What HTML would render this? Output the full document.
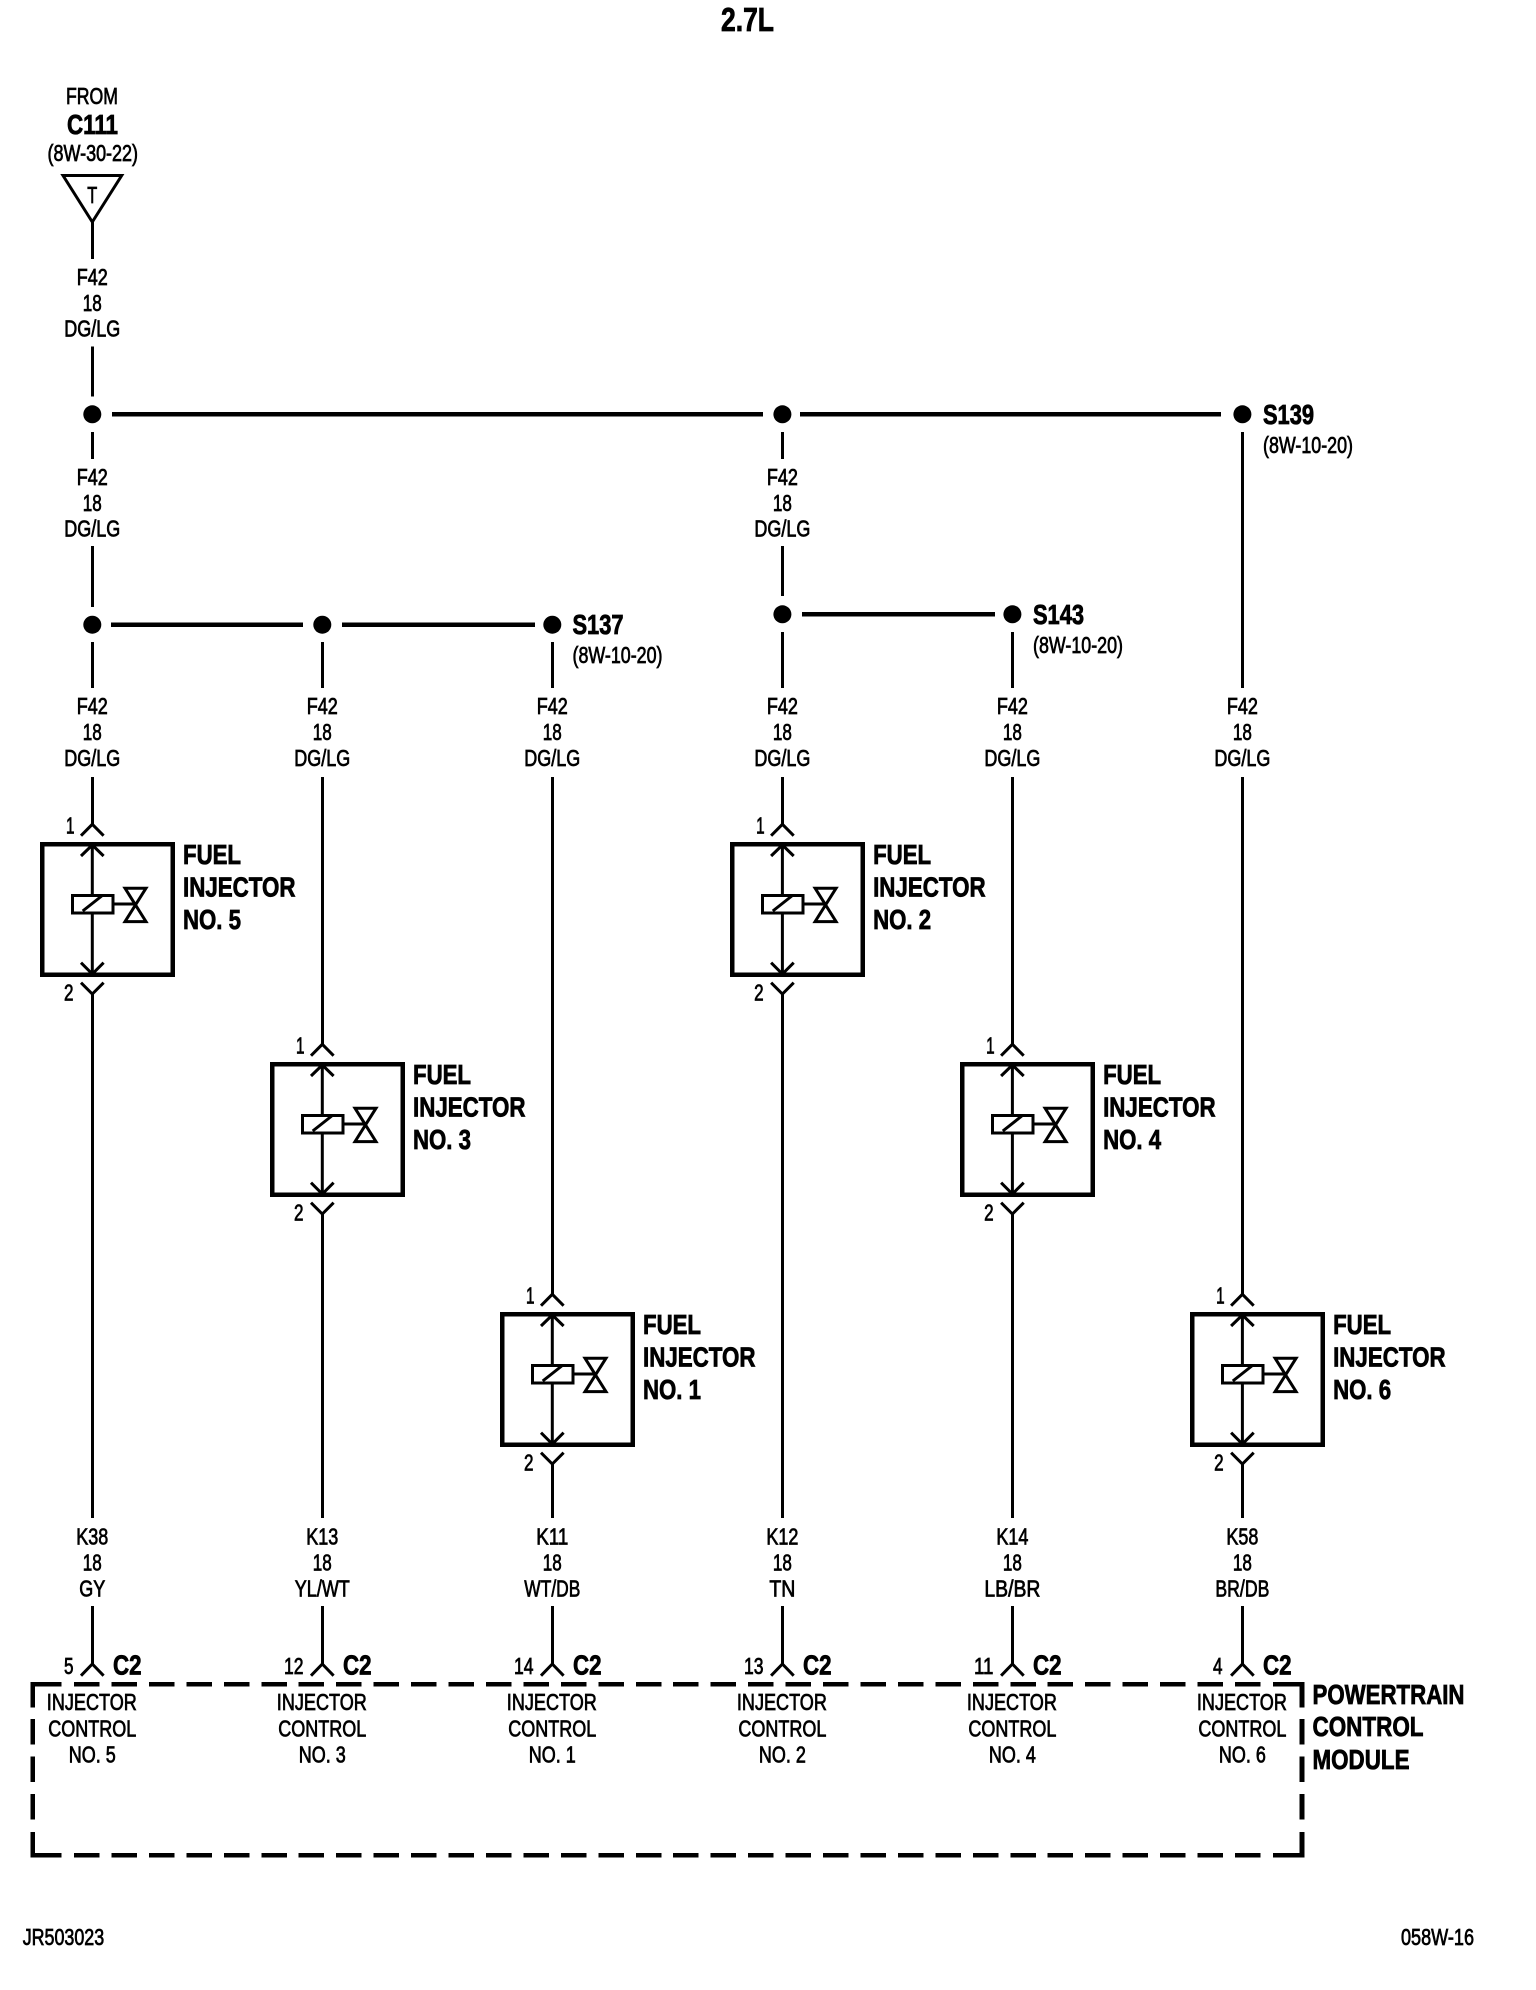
<!DOCTYPE html>
<html><head><meta charset="utf-8"><style>
html,body{margin:0;padding:0;background:#fff;width:1536px;height:1990px;overflow:hidden}
svg{display:block}
text{font-family:"Liberation Sans",Arial,sans-serif;fill:#000;stroke:#000;stroke-width:.75px;font-size:23px}
.b{font-weight:700;font-size:28px;stroke-width:.8px}
.m{text-anchor:middle}
.w{stroke:#000;stroke-width:3;fill:none}
.t{stroke:#000;stroke-width:4.8;fill:none}
.d{stroke:#000;stroke-width:4.7;fill:none}
</style></head><body>
<svg xmlns="http://www.w3.org/2000/svg" width="1536" height="1990" viewBox="0 0 1536 1990" shape-rendering="crispEdges">
<defs>
<g id="inj">
<rect x="42.3" y="844.3" width="130.4" height="130.4" fill="none" stroke="#000" stroke-width="4.6"/>
<path class="w" d="M81 835.7L92.3 824.3L103.6 835.7M81 856L92.3 845L103.6 856M92.3 845V973M81 962.7L92.3 974L103.6 962.7M81 982.7L92.3 994L103.6 982.7" shape-rendering="auto"/>
<rect x="72.4" y="895.3" width="40.4" height="17.5" fill="#fff" stroke="#000" stroke-width="3"/>
<path class="w" d="M82.7 911L101.7 896M114 904H135" shape-rendering="auto"/>
<path d="M125 888.2H146L125 921.6H146Z" fill="none" stroke="#000" stroke-width="3" shape-rendering="auto"/>
</g>
</defs>

<text class="b" x="721" y="31" textLength="53" lengthAdjust="spacingAndGlyphs" style="font-size:33px">2.7L</text>
<text x="66" y="104" textLength="52" lengthAdjust="spacingAndGlyphs">FROM</text>
<text class="b" x="67" y="134" textLength="51" lengthAdjust="spacingAndGlyphs">C111</text>
<text x="47.5" y="161" textLength="90.5" lengthAdjust="spacingAndGlyphs">(8W-30-22)</text>
<polygon points="63,175.5 121.7,175.5 92.3,222" fill="none" stroke="#000" stroke-width="3" shape-rendering="auto"/>
<text class="m" x="92.3" y="203" textLength="10" lengthAdjust="spacingAndGlyphs">T</text>

<!-- buses -->
<path class="t" d="M112 414.3H763M800 414.3H1221M111 624.7H303M342 624.7H535M802 614.3H995"/>
<g shape-rendering="auto">
<circle cx="92.3" cy="414.3" r="9"/><circle cx="782.4" cy="414.3" r="9"/><circle cx="1242.4" cy="414.3" r="9"/>
<circle cx="92.3" cy="624.7" r="9"/><circle cx="322.3" cy="624.7" r="9"/><circle cx="552.3" cy="624.7" r="9"/>
<circle cx="782.4" cy="614.3" r="9"/><circle cx="1012.4" cy="614.3" r="9"/>
</g>

<!-- upper wires -->
<path class="w" d="M92.3 222V259M92.3 346.5V396.4M92.3 432V459M92.3 546V607M92.3 642V688M92.3 777V824
M322.3 642V688M322.3 777V1044
M552.3 642V688M552.3 777V1294
M782.4 432V459M782.4 546V596M782.4 632V688M782.4 777V824
M1012.4 632V688M1012.4 777V1044
M1242.4 432V688M1242.4 777V1294
M92.3 994V1518M322.3 1214V1518M552.3 1464V1518M782.4 994V1518M1012.4 1214V1518M1242.4 1464V1518
M92.3 1606V1664M322.3 1606V1664M552.3 1606V1664M782.4 1606V1664M1012.4 1606V1664M1242.4 1606V1664"/>

<!-- splice labels -->
<text class="b" x="1263" y="424" textLength="51" lengthAdjust="spacingAndGlyphs">S139</text>
<text x="1263" y="453" textLength="90" lengthAdjust="spacingAndGlyphs">(8W-10-20)</text>
<text class="b" x="1033" y="624" textLength="51" lengthAdjust="spacingAndGlyphs">S143</text>
<text x="1033" y="653" textLength="90" lengthAdjust="spacingAndGlyphs">(8W-10-20)</text>
<text class="b" x="572.5" y="634" textLength="51" lengthAdjust="spacingAndGlyphs">S137</text>
<text x="572.5" y="663" textLength="90" lengthAdjust="spacingAndGlyphs">(8W-10-20)</text>

<!-- wire labels row 1 -->
<text class="m" x="92.3" y="285" textLength="31" lengthAdjust="spacingAndGlyphs">F42</text>
<text class="m" x="92.3" y="311" textLength="19" lengthAdjust="spacingAndGlyphs">18</text>
<text class="m" x="92.3" y="336.5" textLength="56" lengthAdjust="spacingAndGlyphs">DG/LG</text>
<!-- row 2 -->
<text class="m" x="92.3" y="485" textLength="31" lengthAdjust="spacingAndGlyphs">F42</text>
<text class="m" x="92.3" y="511" textLength="19" lengthAdjust="spacingAndGlyphs">18</text>
<text class="m" x="92.3" y="536.5" textLength="56" lengthAdjust="spacingAndGlyphs">DG/LG</text>
<text class="m" x="782.4" y="485" textLength="31" lengthAdjust="spacingAndGlyphs">F42</text>
<text class="m" x="782.4" y="511" textLength="19" lengthAdjust="spacingAndGlyphs">18</text>
<text class="m" x="782.4" y="536.5" textLength="56" lengthAdjust="spacingAndGlyphs">DG/LG</text>
<!-- row 3 -->
<text class="m" x="92.3" y="714" textLength="31" lengthAdjust="spacingAndGlyphs">F42</text>
<text class="m" x="92.3" y="740" textLength="19" lengthAdjust="spacingAndGlyphs">18</text>
<text class="m" x="92.3" y="766" textLength="56" lengthAdjust="spacingAndGlyphs">DG/LG</text>
<text class="m" x="322.3" y="714" textLength="31" lengthAdjust="spacingAndGlyphs">F42</text>
<text class="m" x="322.3" y="740" textLength="19" lengthAdjust="spacingAndGlyphs">18</text>
<text class="m" x="322.3" y="766" textLength="56" lengthAdjust="spacingAndGlyphs">DG/LG</text>
<text class="m" x="552.3" y="714" textLength="31" lengthAdjust="spacingAndGlyphs">F42</text>
<text class="m" x="552.3" y="740" textLength="19" lengthAdjust="spacingAndGlyphs">18</text>
<text class="m" x="552.3" y="766" textLength="56" lengthAdjust="spacingAndGlyphs">DG/LG</text>
<text class="m" x="782.4" y="714" textLength="31" lengthAdjust="spacingAndGlyphs">F42</text>
<text class="m" x="782.4" y="740" textLength="19" lengthAdjust="spacingAndGlyphs">18</text>
<text class="m" x="782.4" y="766" textLength="56" lengthAdjust="spacingAndGlyphs">DG/LG</text>
<text class="m" x="1012.4" y="714" textLength="31" lengthAdjust="spacingAndGlyphs">F42</text>
<text class="m" x="1012.4" y="740" textLength="19" lengthAdjust="spacingAndGlyphs">18</text>
<text class="m" x="1012.4" y="766" textLength="56" lengthAdjust="spacingAndGlyphs">DG/LG</text>
<text class="m" x="1242.4" y="714" textLength="31" lengthAdjust="spacingAndGlyphs">F42</text>
<text class="m" x="1242.4" y="740" textLength="19" lengthAdjust="spacingAndGlyphs">18</text>
<text class="m" x="1242.4" y="766" textLength="56" lengthAdjust="spacingAndGlyphs">DG/LG</text>

<!-- injectors -->
<g>
<use href="#inj"/>
<text x="66" y="833.5" textLength="8.5" lengthAdjust="spacingAndGlyphs">1</text>
<text x="64" y="1000.5" textLength="9.5" lengthAdjust="spacingAndGlyphs">2</text>
<text class="b" x="183" y="864" textLength="58" lengthAdjust="spacingAndGlyphs">FUEL</text>
<text class="b" x="183" y="896.5" textLength="112.5" lengthAdjust="spacingAndGlyphs">INJECTOR</text>
<text class="b" x="183" y="929" textLength="58" lengthAdjust="spacingAndGlyphs">NO. 5</text>
</g>
<g transform="translate(230,220)">
<use href="#inj"/>
<text x="66" y="833.5" textLength="8.5" lengthAdjust="spacingAndGlyphs">1</text>
<text x="64" y="1000.5" textLength="9.5" lengthAdjust="spacingAndGlyphs">2</text>
<text class="b" x="183" y="864" textLength="58" lengthAdjust="spacingAndGlyphs">FUEL</text>
<text class="b" x="183" y="896.5" textLength="112.5" lengthAdjust="spacingAndGlyphs">INJECTOR</text>
<text class="b" x="183" y="929" textLength="58" lengthAdjust="spacingAndGlyphs">NO. 3</text>
</g>
<g transform="translate(460,470)">
<use href="#inj"/>
<text x="66" y="833.5" textLength="8.5" lengthAdjust="spacingAndGlyphs">1</text>
<text x="64" y="1000.5" textLength="9.5" lengthAdjust="spacingAndGlyphs">2</text>
<text class="b" x="183" y="864" textLength="58" lengthAdjust="spacingAndGlyphs">FUEL</text>
<text class="b" x="183" y="896.5" textLength="112.5" lengthAdjust="spacingAndGlyphs">INJECTOR</text>
<text class="b" x="183" y="929" textLength="58" lengthAdjust="spacingAndGlyphs">NO. 1</text>
</g>
<g transform="translate(690.1,0)">
<use href="#inj"/>
<text x="66" y="833.5" textLength="8.5" lengthAdjust="spacingAndGlyphs">1</text>
<text x="64" y="1000.5" textLength="9.5" lengthAdjust="spacingAndGlyphs">2</text>
<text class="b" x="183" y="864" textLength="58" lengthAdjust="spacingAndGlyphs">FUEL</text>
<text class="b" x="183" y="896.5" textLength="112.5" lengthAdjust="spacingAndGlyphs">INJECTOR</text>
<text class="b" x="183" y="929" textLength="58" lengthAdjust="spacingAndGlyphs">NO. 2</text>
</g>
<g transform="translate(920.1,220)">
<use href="#inj"/>
<text x="66" y="833.5" textLength="8.5" lengthAdjust="spacingAndGlyphs">1</text>
<text x="64" y="1000.5" textLength="9.5" lengthAdjust="spacingAndGlyphs">2</text>
<text class="b" x="183" y="864" textLength="58" lengthAdjust="spacingAndGlyphs">FUEL</text>
<text class="b" x="183" y="896.5" textLength="112.5" lengthAdjust="spacingAndGlyphs">INJECTOR</text>
<text class="b" x="183" y="929" textLength="58" lengthAdjust="spacingAndGlyphs">NO. 4</text>
</g>
<g transform="translate(1150.1,470)">
<use href="#inj"/>
<text x="66" y="833.5" textLength="8.5" lengthAdjust="spacingAndGlyphs">1</text>
<text x="64" y="1000.5" textLength="9.5" lengthAdjust="spacingAndGlyphs">2</text>
<text class="b" x="183" y="864" textLength="58" lengthAdjust="spacingAndGlyphs">FUEL</text>
<text class="b" x="183" y="896.5" textLength="112.5" lengthAdjust="spacingAndGlyphs">INJECTOR</text>
<text class="b" x="183" y="929" textLength="58" lengthAdjust="spacingAndGlyphs">NO. 6</text>
</g>

<!-- lower wire labels -->
<text class="m" x="92.3" y="1544.5" textLength="32" lengthAdjust="spacingAndGlyphs">K38</text>
<text class="m" x="92.3" y="1570.5" textLength="19" lengthAdjust="spacingAndGlyphs">18</text>
<text class="m" x="92.3" y="1596.5" textLength="26" lengthAdjust="spacingAndGlyphs">GY</text>
<text class="m" x="322.3" y="1544.5" textLength="32" lengthAdjust="spacingAndGlyphs">K13</text>
<text class="m" x="322.3" y="1570.5" textLength="19" lengthAdjust="spacingAndGlyphs">18</text>
<text class="m" x="322.3" y="1596.5" textLength="55" lengthAdjust="spacingAndGlyphs">YL/WT</text>
<text class="m" x="552.3" y="1544.5" textLength="32" lengthAdjust="spacingAndGlyphs">K11</text>
<text class="m" x="552.3" y="1570.5" textLength="19" lengthAdjust="spacingAndGlyphs">18</text>
<text class="m" x="552.3" y="1596.5" textLength="56" lengthAdjust="spacingAndGlyphs">WT/DB</text>
<text class="m" x="782.4" y="1544.5" textLength="32" lengthAdjust="spacingAndGlyphs">K12</text>
<text class="m" x="782.4" y="1570.5" textLength="19" lengthAdjust="spacingAndGlyphs">18</text>
<text class="m" x="782.4" y="1596.5" textLength="26" lengthAdjust="spacingAndGlyphs">TN</text>
<text class="m" x="1012.4" y="1544.5" textLength="32" lengthAdjust="spacingAndGlyphs">K14</text>
<text class="m" x="1012.4" y="1570.5" textLength="19" lengthAdjust="spacingAndGlyphs">18</text>
<text class="m" x="1012.4" y="1596.5" textLength="56" lengthAdjust="spacingAndGlyphs">LB/BR</text>
<text class="m" x="1242.4" y="1544.5" textLength="32" lengthAdjust="spacingAndGlyphs">K58</text>
<text class="m" x="1242.4" y="1570.5" textLength="19" lengthAdjust="spacingAndGlyphs">18</text>
<text class="m" x="1242.4" y="1596.5" textLength="54" lengthAdjust="spacingAndGlyphs">BR/DB</text>

<!-- connector chevrons -->
<path class="w" shape-rendering="auto" d="M81 1675.7L92.3 1664L103.6 1675.7M311 1675.7L322.3 1664L333.6 1675.7M541 1675.7L552.3 1664L563.6 1675.7M771.1 1675.7L782.4 1664L793.7 1675.7M1001.1 1675.7L1012.4 1664L1023.7 1675.7M1231.1 1675.7L1242.4 1664L1253.7 1675.7"/>
<text x="64" y="1674" textLength="9.5" lengthAdjust="spacingAndGlyphs">5</text>
<text x="284" y="1674" textLength="19.5" lengthAdjust="spacingAndGlyphs">12</text>
<text x="514" y="1674" textLength="19.5" lengthAdjust="spacingAndGlyphs">14</text>
<text x="744" y="1674" textLength="19.5" lengthAdjust="spacingAndGlyphs">13</text>
<text x="974" y="1674" textLength="19.5" lengthAdjust="spacingAndGlyphs">11</text>
<text x="1213" y="1674" textLength="9.5" lengthAdjust="spacingAndGlyphs">4</text>
<text class="b" x="113" y="1674.5" textLength="28.5" lengthAdjust="spacingAndGlyphs">C2</text>
<text class="b" x="343" y="1674.5" textLength="28.5" lengthAdjust="spacingAndGlyphs">C2</text>
<text class="b" x="573" y="1674.5" textLength="28.5" lengthAdjust="spacingAndGlyphs">C2</text>
<text class="b" x="803" y="1674.5" textLength="28.5" lengthAdjust="spacingAndGlyphs">C2</text>
<text class="b" x="1033" y="1674.5" textLength="28.5" lengthAdjust="spacingAndGlyphs">C2</text>
<text class="b" x="1263" y="1674.5" textLength="28.5" lengthAdjust="spacingAndGlyphs">C2</text>

<!-- PCM dashed box -->
<path class="d" d="M61.7 1684.3H32.7V1707.3M32.7 1832V1855.3H61.7M1273 1684.3H1302V1707.3M1302 1832V1855.3H1273"/>
<path class="d" stroke-dasharray="25.5 11.95" d="M74 1684.3H1261M74 1855.3H1261M32.7 1719V1820M1302 1719V1820"/>

<!-- PCM labels -->
<text class="m" x="91.8" y="1710" textLength="90" lengthAdjust="spacingAndGlyphs">INJECTOR</text>
<text class="m" x="92.3" y="1736.5" textLength="88" lengthAdjust="spacingAndGlyphs">CONTROL</text>
<text class="m" x="92.3" y="1762.5" textLength="47" lengthAdjust="spacingAndGlyphs">NO. 5</text>
<text class="m" x="321.8" y="1710" textLength="90" lengthAdjust="spacingAndGlyphs">INJECTOR</text>
<text class="m" x="322.3" y="1736.5" textLength="88" lengthAdjust="spacingAndGlyphs">CONTROL</text>
<text class="m" x="322.3" y="1762.5" textLength="47" lengthAdjust="spacingAndGlyphs">NO. 3</text>
<text class="m" x="551.8" y="1710" textLength="90" lengthAdjust="spacingAndGlyphs">INJECTOR</text>
<text class="m" x="552.3" y="1736.5" textLength="88" lengthAdjust="spacingAndGlyphs">CONTROL</text>
<text class="m" x="552.3" y="1762.5" textLength="47" lengthAdjust="spacingAndGlyphs">NO. 1</text>
<text class="m" x="781.9" y="1710" textLength="90" lengthAdjust="spacingAndGlyphs">INJECTOR</text>
<text class="m" x="782.4" y="1736.5" textLength="88" lengthAdjust="spacingAndGlyphs">CONTROL</text>
<text class="m" x="782.4" y="1762.5" textLength="47" lengthAdjust="spacingAndGlyphs">NO. 2</text>
<text class="m" x="1011.9" y="1710" textLength="90" lengthAdjust="spacingAndGlyphs">INJECTOR</text>
<text class="m" x="1012.4" y="1736.5" textLength="88" lengthAdjust="spacingAndGlyphs">CONTROL</text>
<text class="m" x="1012.4" y="1762.5" textLength="47" lengthAdjust="spacingAndGlyphs">NO. 4</text>
<text class="m" x="1241.9" y="1710" textLength="90" lengthAdjust="spacingAndGlyphs">INJECTOR</text>
<text class="m" x="1242.4" y="1736.5" textLength="88" lengthAdjust="spacingAndGlyphs">CONTROL</text>
<text class="m" x="1242.4" y="1762.5" textLength="47" lengthAdjust="spacingAndGlyphs">NO. 6</text>

<text class="b" x="1312.5" y="1704" textLength="152" lengthAdjust="spacingAndGlyphs">POWERTRAIN</text>
<text class="b" x="1312.5" y="1736" textLength="111" lengthAdjust="spacingAndGlyphs">CONTROL</text>
<text class="b" x="1312.5" y="1769" textLength="97" lengthAdjust="spacingAndGlyphs">MODULE</text>

<text x="22.7" y="1945" textLength="81.5" lengthAdjust="spacingAndGlyphs">JR503023</text>
<text x="1401" y="1945" textLength="73" lengthAdjust="spacingAndGlyphs">058W-16</text>
</svg>
</body></html>
